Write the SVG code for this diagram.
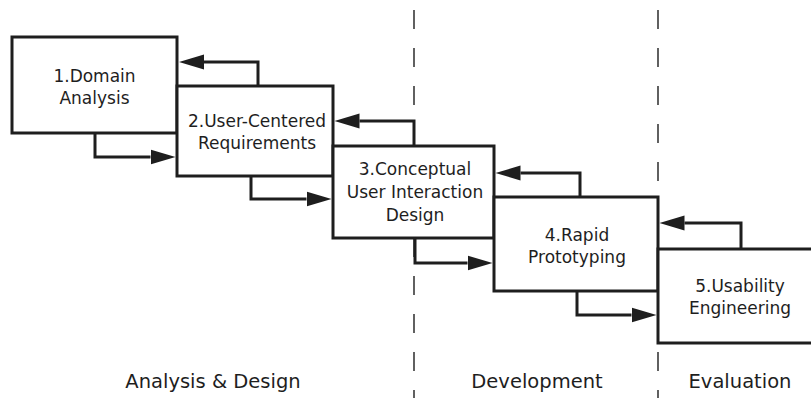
<svg xmlns="http://www.w3.org/2000/svg" width="811" height="398" viewBox="0 0 811 398">
  <style>
    .phase-divider { stroke: #3a3a3a; stroke-width: 1.6; stroke-dasharray: 19 19; fill: none; }
    .stage rect { fill: #ffffff; stroke: #1e1e1e; stroke-width: 3; }
    .stage text { font-family: "DejaVu Sans", "Liberation Sans", sans-serif; font-size: 17px; fill: #1e1e1e; text-anchor: middle; }
    .flow path { fill: none; stroke: #1e1e1e; stroke-width: 3; }
    .phase { font-family: "DejaVu Sans", "Liberation Sans", sans-serif; font-size: 19.5px; fill: #1e1e1e; text-anchor: middle; }
  </style>
  <defs>
    <marker id="head" markerUnits="userSpaceOnUse" markerWidth="26" markerHeight="16" viewBox="0 -8 26 16" refX="0" refY="0" orient="auto">
      <path d="M0,-7.5 L25,0 L0,7.5 Z" fill="#1e1e1e"/>
    </marker>
  </defs>

  <rect width="811" height="398" fill="#ffffff"/>

  <!-- phase dividers -->
  <g id="dividers">
    <line class="phase-divider" x1="414" y1="10" x2="414" y2="398"/>
    <line class="phase-divider" x1="658" y1="10" x2="658" y2="398"/>
  </g>

  <!-- stages -->
  <g id="stage1" class="stage">
    <rect x="12" y="37" width="165" height="96"/>
    <text x="94.5" y="82">1.Domain</text>
    <text x="94.5" y="104">Analysis</text>
  </g>
  <g id="stage2" class="stage">
    <rect x="177" y="86" width="156" height="90"/>
    <text x="257" y="127">2.User-Centered</text>
    <text x="257" y="149">Requirements</text>
  </g>
  <g id="stage3" class="stage">
    <rect x="333" y="146" width="161" height="92"/>
    <text x="415" y="175">3.Conceptual</text>
    <text x="415" y="198">User Interaction</text>
    <text x="415" y="221">Design</text>
  </g>
  <g id="stage4" class="stage">
    <rect x="494" y="197" width="164" height="94"/>
    <text x="577" y="241">4.Rapid</text>
    <text x="577" y="263">Prototyping</text>
  </g>
  <g id="stage5" class="stage">
    <rect x="658" y="249" width="170" height="94"/>
    <text x="740" y="292">5.Usability</text>
    <text x="740" y="314">Engineering</text>
  </g>

  <!-- forward and feedback connectors -->
  <g id="connectors" class="flow">
    <path d="M258,86 V62 H204" marker-end="url(#head)"/>
    <path d="M95,133 V157 H150.5" marker-end="url(#head)"/>
    <path d="M414,146 V121 H359.5" marker-end="url(#head)"/>
    <path d="M251,176 V199 H306.5" marker-end="url(#head)"/>
    <path d="M580,197 V173 H520.5" marker-end="url(#head)"/>
    <path d="M415,238 V263 H467.5" marker-end="url(#head)"/>
    <path d="M741,249 V223 H684.5" marker-end="url(#head)"/>
    <path d="M577,291 V315 H631.5" marker-end="url(#head)"/>
  </g>

  <!-- phase labels -->
  <g id="phases">
    <text class="phase" x="213" y="388">Analysis &amp; Design</text>
    <text class="phase" x="537" y="388">Development</text>
    <text class="phase" x="740" y="388">Evaluation</text>
  </g>
</svg>
